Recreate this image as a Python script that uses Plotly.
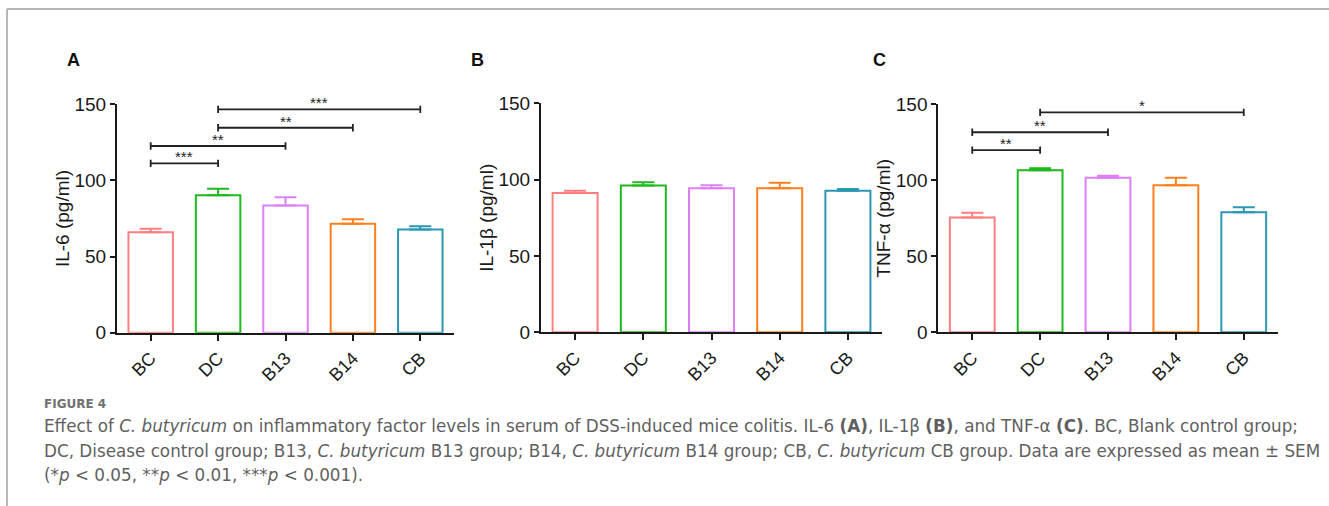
import plotly.graph_objects as go

W, H = 1329, 506

groups = ["BC", "DC", "B13", "B14", "CB"]
colors = ["#FF7F7F", "#1DB91D", "#DD80F5", "#FF7F1E", "#2A98B2"]

il6_mean = [66.0, 90.3, 83.6, 71.6, 67.8]
il6_sem = [2.2, 4.2, 5.3, 2.9, 2.1]
il1b_mean = [91.3, 96.1, 94.4, 94.4, 92.8]
il1b_sem = [1.5, 2.2, 2.0, 3.6, 1.1]
tnf_mean = [75.5, 106.6, 101.7, 96.7, 78.9]
tnf_sem = [3.1, 1.3, 1.3, 5.0, 3.3]

# significance brackets: (start group, end group, height, label)
il6_sig = [("BC", "DC", 111.2, "***"), ("BC", "B13", 122.6, "**"),
           ("DC", "B14", 134.6, "**"), ("DC", "CB", 146.7, "***")]
il1b_sig = []
tnf_sig = [("BC", "DC", 119.9, "**"), ("BC", "B13", 131.6, "**"),
           ("DC", "CB", 144.7, "*")]

ytitles = ["IL-6 (pg/ml)", "IL-1β (pg/ml)", "TNF-α (pg/ml)"]
panel_letters = ["A", "B", "C"]
yticks = [0, 50, 100, 150]

# pixel geometry of each panel: (x_left, x_right, y_bottom, y_top)
geom = [(117, 454, 332.7, 104.3), (541, 882, 332.3, 103.3), (938.3, 1277.7, 332.3, 104.3)]
letter_x = [73, 477, 879]

AXC = "#1a1a1a"
FONT = "Liberation Sans, Arial, sans-serif"

fig = go.Figure()
panels = [(il6_mean, il6_sem, il6_sig), (il1b_mean, il1b_sem, il1b_sig), (tnf_mean, tnf_sem, tnf_sig)]
annotations = []
shapes = []
xpos = list(range(len(groups)))

for p, (means, sems, sigs) in enumerate(panels):
    xa = "x" if p == 0 else f"x{p+1}"
    ya = "y" if p == 0 else f"y{p+1}"
    for i, g in enumerate(groups):
        fig.add_trace(go.Bar(
            x=[xpos[i]], y=[means[i]], xaxis=xa, yaxis=ya, width=0.66,
            marker=dict(color="white", line=dict(color=colors[i], width=2)),
            error_y=dict(type="data", symmetric=False, array=[sems[i]], arrayminus=[0],
                         color=colors[i], thickness=2, width=11),
            showlegend=False, hoverinfo="skip"))
    cap = 2.4
    for (g1, g2, yv, lab) in sigs:
        i1, i2 = groups.index(g1), groups.index(g2)
        fig.add_trace(go.Scatter(
            x=[i1, i1, None, i1, i2, None, i2, i2],
            y=[yv - cap, yv + cap, None, yv, yv, None, yv - cap, yv + cap],
            xaxis=xa, yaxis=ya, mode="lines", line=dict(color="#222", width=1.8),
            showlegend=False, hoverinfo="skip", cliponaxis=False))
        annotations.append(dict(x=(i1 + i2) / 2, y=yv, xref=xa, yref=ya, text=lab,
                                showarrow=False, yanchor="bottom", yshift=-4,
                                font=dict(family=FONT, size=15, color="#222")))
    xl, xr, yb, yt = geom[p]
    sfx = "" if p == 0 else str(p + 1)
    fig.update_layout(**{
        f"xaxis{sfx}": dict(domain=[xl / W, xr / W], anchor=ya, automargin=False,
                            tickvals=xpos, ticktext=groups,
                            range=[-0.5, 4.5], showline=True, linecolor=AXC, linewidth=2,
                            ticks="outside", ticklen=6, tickwidth=2, tickcolor=AXC,
                            tickangle=-45, showgrid=False, zeroline=False,
                            tickfont=dict(family=FONT, size=18, color=AXC)),
        f"yaxis{sfx}": dict(domain=[1 - yb / H, 1 - yt / H], anchor=xa, range=[0, 150],
                            automargin=False,
                            tickvals=yticks, showline=True, linecolor=AXC, linewidth=2,
                            ticks="outside", ticklen=5, tickwidth=2, tickcolor=AXC,
                            showgrid=False, zeroline=False,
                            tickfont=dict(family=FONT, size=19, color=AXC),
                            title=dict(text=ytitles[p], standoff=0,
                                       font=dict(family=FONT, size=19, color=AXC))),
    })
    annotations.append(dict(x=letter_x[p] / W, y=1 - 60 / H, xref="paper", yref="paper",
                            text=f"<b>{panel_letters[p]}</b>", showarrow=False,
                            xanchor="center", yanchor="middle",
                            font=dict(family=FONT, size=18, color="#111")))

CAPF = "DejaVu Sans, sans-serif"
CAPC = "#5f5f5f"
caption_lines = [
    "Effect of <i>C. butyricum</i> on inflammatory factor levels in serum of DSS-induced mice colitis. IL-6 <b>(A)</b>, IL-1β <b>(B)</b>, and TNF-α <b>(C)</b>. BC, Blank control group;",
    "DC, Disease control group; B13, <i>C. butyricum</i> B13 group; B14, <i>C. butyricum</i> B14 group; CB, <i>C. butyricum</i> CB group. Data are expressed as mean ± SEM",
    "(*<i>p</i> < 0.05, **<i>p</i> < 0.01, ***<i>p</i> < 0.001).",
]
annotations.append(dict(x=42 / W, y=1 - 404 / H, xref="paper", yref="paper", text="<b>FIGURE 4</b>",
                        showarrow=False, xanchor="left", yanchor="middle",
                        font=dict(family=CAPF, size=12, color="#707070")))
for k, line in enumerate(caption_lines):
    annotations.append(dict(x=42 / W, y=1 - (426 + 24.5 * k) / H, xref="paper", yref="paper",
                            text=line, showarrow=False, xanchor="left", yanchor="middle",
                            font=dict(family=CAPF, size=16.8, color=CAPC)))

shapes.append(dict(type="line", xref="paper", yref="paper", x0=7 / W, x1=1, y0=1 - 9 / H, y1=1 - 9 / H,
                   line=dict(color="#b8b8b8", width=2)))
shapes.append(dict(type="line", xref="paper", yref="paper", x0=7 / W, x1=7 / W, y0=0, y1=1 - 9 / H,
                   line=dict(color="#b8b8b8", width=2)))

fig.update_layout(width=W, height=H, margin=dict(l=0, r=0, t=0, b=0, autoexpand=False),
                  paper_bgcolor="white", plot_bgcolor="white",
                  annotations=annotations, shapes=shapes, barmode="overlay",
                  font=dict(family=FONT))
js = "document.body.style.margin='0';document.body.style.overflow='hidden';"
fig.write_html("out.html", config={"displayModeBar": False}, post_script=js)
